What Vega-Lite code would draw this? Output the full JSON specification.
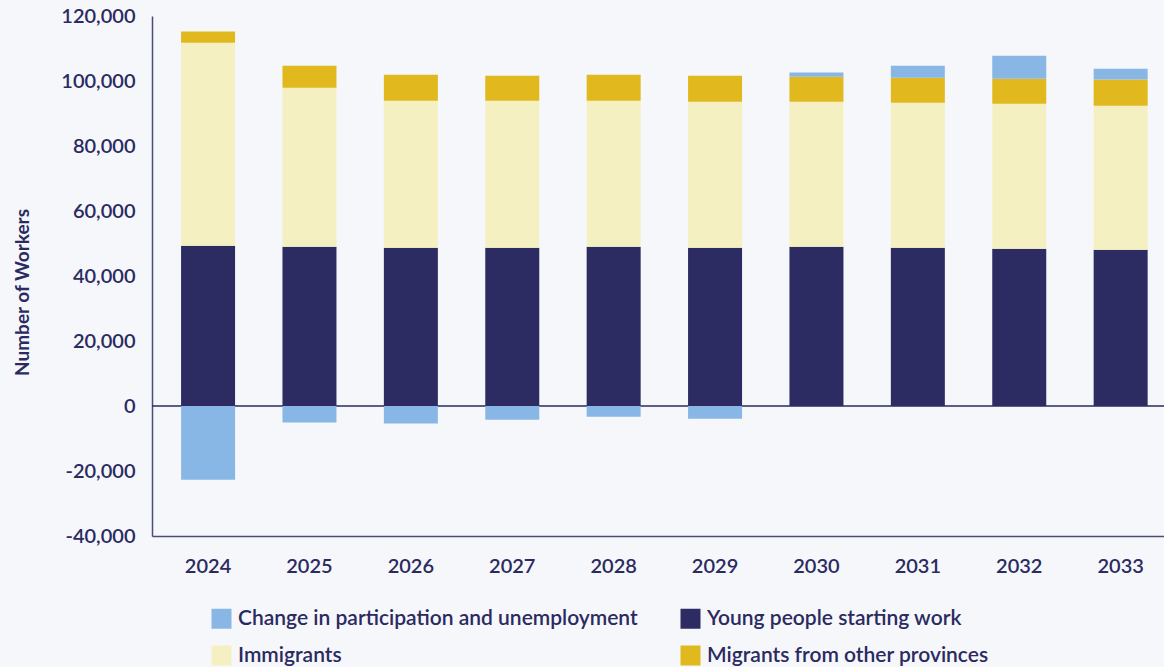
{
  "$schema": "https://vega.github.io/schema/vega-lite/v6.json",
  "width": 1012,
  "height": 520,
  "autosize": {"type": "none"},
  "padding": {"left": 152, "top": 16, "right": 0, "bottom": 131},
  "background": "#f5f7fa",
  "config": {"view": {"stroke": null}, "font": "Lato"},
  "data": {"values": [
    {"year": "2024", "category": "Young people starting work", "seq": 1, "value": 49300},
    {"year": "2024", "category": "Immigrants", "seq": 2, "value": 62500},
    {"year": "2024", "category": "Migrants from other provinces", "seq": 3, "value": 3400},
    {"year": "2024", "category": "Change in participation and unemployment", "seq": 4, "value": -22700},
    {"year": "2025", "category": "Young people starting work", "seq": 1, "value": 49000},
    {"year": "2025", "category": "Immigrants", "seq": 2, "value": 48900},
    {"year": "2025", "category": "Migrants from other provinces", "seq": 3, "value": 6800},
    {"year": "2025", "category": "Change in participation and unemployment", "seq": 4, "value": -5100},
    {"year": "2026", "category": "Young people starting work", "seq": 1, "value": 48700},
    {"year": "2026", "category": "Immigrants", "seq": 2, "value": 45200},
    {"year": "2026", "category": "Migrants from other provinces", "seq": 3, "value": 8000},
    {"year": "2026", "category": "Change in participation and unemployment", "seq": 4, "value": -5400},
    {"year": "2027", "category": "Young people starting work", "seq": 1, "value": 48700},
    {"year": "2027", "category": "Immigrants", "seq": 2, "value": 45200},
    {"year": "2027", "category": "Migrants from other provinces", "seq": 3, "value": 7700},
    {"year": "2027", "category": "Change in participation and unemployment", "seq": 4, "value": -4200},
    {"year": "2028", "category": "Young people starting work", "seq": 1, "value": 49000},
    {"year": "2028", "category": "Immigrants", "seq": 2, "value": 44900},
    {"year": "2028", "category": "Migrants from other provinces", "seq": 3, "value": 8000},
    {"year": "2028", "category": "Change in participation and unemployment", "seq": 4, "value": -3300},
    {"year": "2029", "category": "Young people starting work", "seq": 1, "value": 48700},
    {"year": "2029", "category": "Immigrants", "seq": 2, "value": 44900},
    {"year": "2029", "category": "Migrants from other provinces", "seq": 3, "value": 8000},
    {"year": "2029", "category": "Change in participation and unemployment", "seq": 4, "value": -3900},
    {"year": "2030", "category": "Young people starting work", "seq": 1, "value": 49000},
    {"year": "2030", "category": "Immigrants", "seq": 2, "value": 44600},
    {"year": "2030", "category": "Migrants from other provinces", "seq": 3, "value": 7700},
    {"year": "2030", "category": "Change in participation and unemployment", "seq": 4, "value": 1300},
    {"year": "2031", "category": "Young people starting work", "seq": 1, "value": 48700},
    {"year": "2031", "category": "Immigrants", "seq": 2, "value": 44600},
    {"year": "2031", "category": "Migrants from other provinces", "seq": 3, "value": 7700},
    {"year": "2031", "category": "Change in participation and unemployment", "seq": 4, "value": 3700},
    {"year": "2032", "category": "Young people starting work", "seq": 1, "value": 48400},
    {"year": "2032", "category": "Immigrants", "seq": 2, "value": 44600},
    {"year": "2032", "category": "Migrants from other provinces", "seq": 3, "value": 7700},
    {"year": "2032", "category": "Change in participation and unemployment", "seq": 4, "value": 7100},
    {"year": "2033", "category": "Young people starting work", "seq": 1, "value": 48100},
    {"year": "2033", "category": "Immigrants", "seq": 2, "value": 44300},
    {"year": "2033", "category": "Migrants from other provinces", "seq": 3, "value": 8100},
    {"year": "2033", "category": "Change in participation and unemployment", "seq": 4, "value": 3300}
  ]},
  "encoding": {
    "x": {
      "field": "year", "type": "ordinal",
      "scale": {"paddingInner": 0.4675, "paddingOuter": 0.224, "align": 0.64},
      "axis": {
        "title": null, "labelAngle": 0, "ticks": false,
        "domainColor": "#4a4d78", "domainWidth": 1.5,
        "labelFontSize": 20, "labelColor": "#2b2a61", "labelFontWeight": 600,
        "labelPadding": 20
      }
    }
  },
  "layer": [
    {
      "data": {"values": [{}]},
      "mark": {"type": "rule", "color": "#2b2a61", "strokeWidth": 1.5},
      "encoding": {"x": null, "y": {"datum": 0, "type": "quantitative"}}
    },
    {
      "mark": {"type": "bar"},
      "encoding": {
        "y": {
          "field": "value", "type": "quantitative", "stack": "zero",
          "scale": {"domain": [-40000, 120000], "nice": false},
          "axis": {
            "values": [-40000, -20000, 0, 20000, 40000, 60000, 80000, 100000, 120000],
            "labelExpr": "replace(format(datum.value, ','), '\u2212', '-')",
            "grid": false, "ticks": false,
            "domainColor": "#4a4d78", "domainWidth": 1.5,
            "labelFontSize": 20, "labelColor": "#2b2a61", "labelFontWeight": 600,
            "labelPadding": 17,
            "title": "Number of Workers",
            "titleFontSize": 19, "titleFontWeight": "bold", "titleColor": "#2b2a61",
            "titlePadding": 28, "titleY": 276
          }
        },
        "color": {
          "field": "category", "type": "nominal",
          "scale": {
            "domain": ["Change in participation and unemployment", "Immigrants", "Young people starting work", "Migrants from other provinces"],
            "range": ["#88b7e5", "#f4f0c2", "#2c2b62", "#e1b91e"]
          },
          "legend": {
            "orient": "none", "legendX": 59, "legendY": 592,
            "columns": 2, "columnPadding": 42, "rowPadding": 15,
            "title": null, "symbolType": "square", "symbolSize": 400,
            "symbolStrokeWidth": 0, "labelOffset": 6, "labelLimit": 0,
            "labelFontSize": 21, "labelColor": "#2b2a61", "labelFontWeight": 600
          }
        },
        "order": {"field": "seq", "type": "quantitative"}
      }
    }
  ]
}
